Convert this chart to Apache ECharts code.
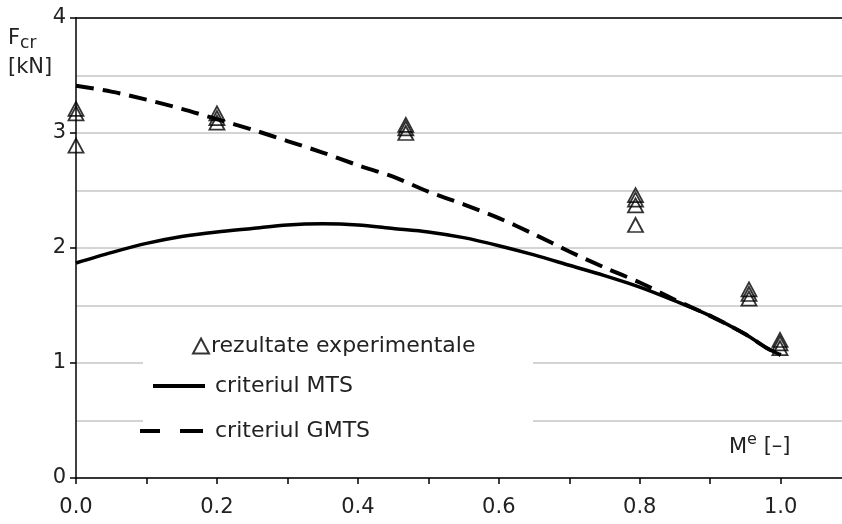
<!DOCTYPE html>
<html>
<head>
<meta charset="utf-8">
<script src="https://cdn.jsdelivr.net/npm/echarts@6/dist/echarts.min.js"></script>
<style>
  html, body { margin: 0; padding: 0; background: #fff; }
  #main { width: 842px; height: 524px; }
</style>
</head>
<body>
<div id="main"></div>
<script>
// date
var expM = [0, 0, 0, 0.2, 0.2, 0.2, 0.468, 0.468, 0.468, 0.794, 0.794, 0.794, 0.794, 0.955, 0.955, 0.955, 0.999, 0.999, 0.999];
var expF = [3.21, 3.17, 2.89, 3.17, 3.13, 3.09, 3.07, 3.04, 3.00, 2.46, 2.42, 2.37, 2.20, 1.64, 1.60, 1.56, 1.20, 1.17, 1.13];

var mtsM = [0, 0.05, 0.1, 0.15, 0.2, 0.25, 0.3, 0.35, 0.4, 0.45, 0.5, 0.55, 0.6, 0.65, 0.7, 0.75, 0.8, 0.85, 0.9, 0.95, 0.98, 1.0];
var mtsF = [1.87, 1.96, 2.04, 2.10, 2.14, 2.17, 2.20, 2.21, 2.20, 2.17, 2.14, 2.09, 2.02, 1.94, 1.85, 1.76, 1.66, 1.54, 1.41, 1.25, 1.13, 1.07];

var gmtsM = [0, 0.05, 0.1, 0.15, 0.2, 0.25, 0.3, 0.35, 0.4, 0.45, 0.5, 0.55, 0.6, 0.65, 0.7, 0.75, 0.8, 0.85, 0.9, 0.95, 0.98, 1.0];
var gmtsF = [3.41, 3.36, 3.29, 3.21, 3.12, 3.03, 2.93, 2.83, 2.72, 2.62, 2.49, 2.38, 2.26, 2.12, 1.97, 1.83, 1.70, 1.55, 1.41, 1.25, 1.13, 1.07];

var xTicks = [0, 0.2, 0.4, 0.6, 0.8, 1.0];

function pairs(xs, ys){
  var out = [];
  for (var i = 0; i < xs.length; i++) out.push([xs[i], ys[i]]);
  return out;
}

var FONT = 'DejaVu Sans';
var TXT = '#222';
var myChart = echarts.init(document.getElementById('main'));

var option = {
  animation: false,
  backgroundColor: '#fff',
  textStyle: { fontFamily: FONT },
  grid: { left: 76, top: 18, right: 0, bottom: 46, containLabel: false },
  xAxis: [
    {
      type: 'value',
      min: 0, max: 1.087, interval: 0.1,
      axisLine: { lineStyle: { color: '#000', width: 1.5 } },
      axisTick: { show: true, length: 6, lineStyle: { color: '#000', width: 1.5 } },
      axisLabel: {
        showMaxLabel: false,
        fontSize: 21, color: TXT, margin: 19, fontFamily: FONT,
        formatter: function(v){
          for (var i = 0; i < xTicks.length; i++) {
            if (Math.abs(v - xTicks[i]) < 1e-6) return v.toFixed(1);
          }
          return '';
        }
      },
      splitLine: { show: false }
    },
    {
      // linia de sus a cadrului
      type: 'value', position: 'top',
      min: 0, max: 1.087,
      axisLine: { show: true, lineStyle: { color: '#000', width: 1.5 } },
      axisTick: { show: false }, axisLabel: { show: false }, splitLine: { show: false }
    }
  ],
  yAxis: {
    type: 'value',
    min: 0, max: 4, interval: 1,
    axisLine: { show: true, lineStyle: { color: '#000', width: 1.5 } },
    axisTick: { show: true, length: 6, lineStyle: { color: '#000', width: 1.5 } },
    axisLabel: { fontSize: 21, color: TXT, margin: 10, fontFamily: FONT },
    splitLine: { show: true, lineStyle: { color: '#c6c6c6', width: 1.5 } },
    minorTick: { show: false, splitNumber: 2 },
    minorSplitLine: { show: true, lineStyle: { color: '#c6c6c6', width: 1.5 } }
  },
  legend: [
    {
      data: ['rezultate experimentale'],
      left: 187, top: 330, itemWidth: 16, itemHeight: 15,
      textStyle: { fontSize: 22, color: TXT, fontFamily: FONT, padding: [0, 0, 0, -3] }
    },
    {
      data: ['criteriul MTS'],
      left: 148, top: 370, itemWidth: 52, itemHeight: 4,
      icon: 'rect',
      itemStyle: { color: '#000' },
      textStyle: { fontSize: 22, color: TXT, fontFamily: FONT, padding: [0, 0, 0, 5] }
    },
    {
      data: ['criteriul GMTS'],
      left: 135, top: 415, itemWidth: 63, itemHeight: 4,
      icon: 'path://M0,0H20V4H0Z M40,0H63V4H40Z',
      itemStyle: { color: '#000' },
      textStyle: { fontSize: 22, color: TXT, fontFamily: FONT, padding: [0, 0, 0, 7] }
    }
  ],
  graphic: [
    {
      type: 'rect', z: 1, silent: true,
      shape: { x: 143, y: 326, width: 390, height: 122 },
      style: { fill: '#fff' }
    },
    {
      type: 'text', left: 8, top: 26, z: 5,
      style: {
        text: '{f|F}{s|cr}\n{k|[kN]}',
        rich: {
          f: { fontSize: 21, fontFamily: FONT, fill: TXT, lineHeight: 27 },
          s: { fontSize: 17, fontFamily: FONT, fill: TXT, padding: [9, 0, 0, 0], lineHeight: 27 },
          k: { fontSize: 21, fontFamily: FONT, fill: TXT, lineHeight: 30 }
        }
      }
    },
    {
      type: 'text', left: 729, top: 432, z: 5,
      style: {
        text: '{m|M}{e|e}{b| [–]}',
        rich: {
          m: { fontSize: 21, fontFamily: FONT, fill: TXT, padding: [9, 0, 0, 0] },
          e: { fontSize: 16, fontFamily: FONT, fill: TXT, padding: [0, 0, 7, 0] },
          b: { fontSize: 21, fontFamily: FONT, fill: TXT, padding: [7, 0, 0, 0] }
        }
      }
    }
  ],
  series: [
    {
      name: 'rezultate experimentale',
      type: 'scatter',
      symbol: 'triangle',
      symbolSize: [15, 14],
      itemStyle: { color: 'rgba(255,255,255,0)', borderColor: '#000', borderWidth: 1.8 },
      data: pairs(expM, expF),
      z: 4
    },
    {
      name: 'criteriul MTS',
      type: 'line',
      smooth: 0.3,
      symbol: 'none',
      lineStyle: { color: '#000', width: 3.5 },
      itemStyle: { color: '#000' },
      data: pairs(mtsM, mtsF),
      z: 3
    },
    {
      name: 'criteriul GMTS',
      type: 'line',
      smooth: 0.3,
      symbol: 'none',
      lineStyle: { color: '#000', width: 4, type: [18, 9] },
      itemStyle: { color: '#000' },
      data: pairs(gmtsM, gmtsF),
      z: 3
    }
  ]
};

myChart.setOption(option);
</script>
</body>
</html>
